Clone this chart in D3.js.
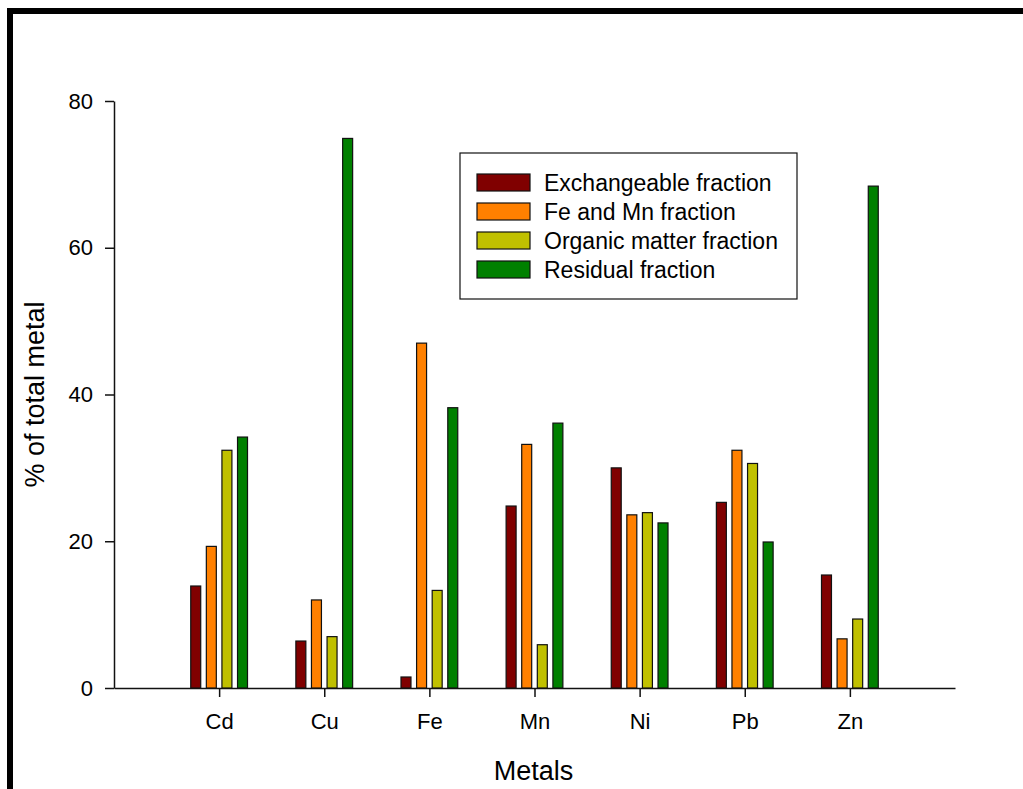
<!DOCTYPE html>
<html>
<head>
<meta charset="utf-8">
<script src="https://cdn.jsdelivr.net/npm/d3@7"></script>
<style>
  body { margin: 0; background: #fff; }
  svg { display: block; font-family: "Liberation Sans", Arial, sans-serif; }
  .axis path, .axis line { stroke: #111; stroke-width: 1.5; }
  .axis text { font-size: 22px; fill: #000; }
</style>
</head>
<body>
<svg id="chart" width="1023" height="789"></svg>
<script>
// metals on the x axis
var metals = ["Cd", "Cu", "Fe", "Mn", "Ni", "Pb", "Zn"];
// fractions (series)
var fractions = ["Exchangeable fraction", "Fe and Mn fraction", "Organic matter fraction", "Residual fraction"];
var fractionColors = ["#800000", "#FF8000", "#C0C000", "#008000"];

// % of total metal, one array per fraction
var exchangeable = [13.9, 6.4, 1.5, 24.8, 30.0, 25.3, 15.4];
var feMn         = [19.3, 12.0, 47.0, 33.2, 23.6, 32.4, 6.7];
var organic      = [32.4, 7.0, 13.3, 5.9, 23.9, 30.6, 9.4];
var residual     = [34.2, 74.9, 38.2, 36.1, 22.5, 19.9, 68.4];

var yTicks = [0, 20, 40, 60, 80];

var seriesValues = [exchangeable, feMn, organic, residual];

var svg = d3.select("#chart");

// outer black frame (runs past the right and bottom edges)
svg.append("rect")
    .attr("x", 10).attr("y", 11)
    .attr("width", 1100).attr("height", 900)
    .attr("fill", "none")
    .attr("stroke", "#000")
    .attr("stroke-width", 6);

var plot = {left: 114, right: 955, top: 101, bottom: 688};

var x = d3.scalePoint().domain(metals).range([plot.left, plot.right]).padding(1);
var y = d3.scaleLinear().domain([0, 80]).range([plot.bottom, plot.top]);

// bars inside each group
var groupHalf = x.step() * 0.27;
var inner = d3.scaleBand().domain(fractions).range([-groupHalf, groupHalf]).paddingInner(0.36);

var rows = [];
metals.forEach(function(m, i){
    fractions.forEach(function(f, j){
        rows.push({metal: m, fraction: f, value: seriesValues[j][i], color: fractionColors[j]});
    });
});

// axes
svg.append("g")
    .attr("class", "axis")
    .attr("transform", "translate(" + plot.left + ",0)")
    .call(d3.axisLeft(y).tickValues(yTicks).tickSize(9).tickSizeOuter(0).tickPadding(12));

svg.append("g")
    .attr("class", "axis")
    .attr("transform", "translate(0," + plot.bottom + ")")
    .call(d3.axisBottom(x).tickSize(9).tickSizeOuter(0).tickPadding(16));

svg.selectAll(".bar")
    .data(rows).enter().append("rect")
    .attr("class", "bar")
    .attr("x", function(d){ return x(d.metal) + inner(d.fraction); })
    .attr("y", function(d){ return y(d.value); })
    .attr("width", inner.bandwidth())
    .attr("height", function(d){ return y(0) - y(d.value); })
    .attr("fill", function(d){ return d.color; })
    .attr("stroke", "#111")
    .attr("stroke-width", 1.2);

// axis titles
svg.append("text")
    .attr("x", (plot.left + plot.right) / 2 - 1)
    .attr("y", 780)
    .attr("text-anchor", "middle")
    .attr("font-size", 27)
    .text("Metals");

svg.append("text")
    .attr("transform", "translate(44," + ((plot.top + plot.bottom) / 2) + ") rotate(-90)")
    .attr("text-anchor", "middle")
    .attr("font-size", 27)
    .text("% of total metal");

// legend
var legend = svg.append("g").attr("transform", "translate(460,153)");
legend.append("rect")
    .attr("width", 337).attr("height", 146)
    .attr("fill", "#fff")
    .attr("stroke", "#111")
    .attr("stroke-width", 1.2);

var items = legend.selectAll(".item")
    .data(fractions).enter().append("g")
    .attr("class", "item")
    .attr("transform", function(d, i){ return "translate(0," + (21 + i * 29) + ")"; });

items.append("rect")
    .attr("x", 17).attr("width", 53).attr("height", 17)
    .attr("fill", function(d, i){ return fractionColors[i]; })
    .attr("stroke", "#111")
    .attr("stroke-width", 1.2);

items.append("text")
    .attr("x", 84).attr("y", 17)
    .attr("font-size", 23)
    .text(function(d){ return d; });
</script>
</body>
</html>
